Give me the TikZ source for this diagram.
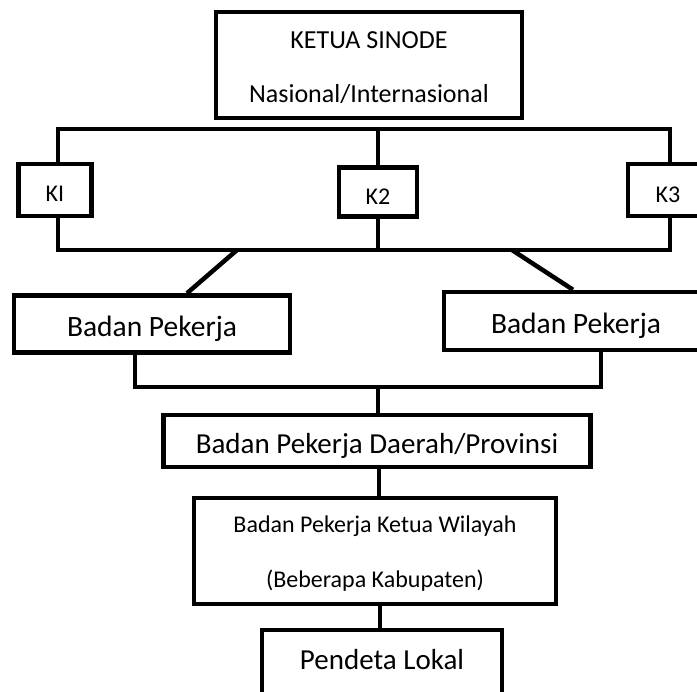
\documentclass[tikz,border=0pt]{standalone}
\usepackage{fontspec}
\setmainfont{Carlito}
\begin{document}
\begin{tikzpicture}[x=1pt,y=-1pt,
  box/.style={draw=black,line width=4.5pt,fill=white,inner sep=0pt,
    align=center,text=black,text depth=0pt,text height=26pt},
  txt/.style={anchor=base,inner sep=0pt,text=black},
  link/.style={draw=black,line width=4.5pt,line cap=rect},
  fs/.style={font=\fontsize{#1}{#1}\selectfont}]
\useasboundingbox (0,0) rectangle (697,692);
\clip (0,0) rectangle (697,692);

% top level
\node[box,minimum width=306pt,minimum height=106pt] (sinode) at (369,65) {};
\node[txt,fs=26] (sinode1) at (369,49) {KETUA SINODE};
\node[txt,fs=26] (sinode2) at (369,103) {Nasional/Internasional};

% bar joining the three councils
\coordinate (tl) at (58,129);
\coordinate (tm) at (378,129);
\coordinate (tr) at (670,129);
\coordinate (bl) at (58,250);
\coordinate (bm) at (378,250);
\coordinate (br) at (670,250);

\node[box,minimum width=73pt,minimum height=52pt,fs=24,text height=24pt] (k1) at (55,190) {KI};
\node[box,minimum width=78pt,minimum height=49pt,fs=24] (k2) at (378,192) {K2};
\node[box,minimum width=80pt,minimum height=52pt,fs=24] (k3) at (668,190) {K3};

\draw[link] (tl) -- (tr);
\draw[link] (bl) -- (br);
\draw[link] (tl) -- (k1.north -| tl);
\draw[link] (k1.south -| bl) -- (bl);
\draw[link] (tm) -- (k2.north);
\draw[link] (k2.south) -- (bm);
\draw[link] (tr) -- (k3.north -| tr);
\draw[link] (k3.south -| br) -- (br);

% working bodies
\node[box,minimum width=276pt,minimum height=57pt,fs=29.5] (bpl) at (152,324) {Badan Pekerja};
\node[box,minimum width=264pt,minimum height=58pt,fs=29.5] (bpr) at (576,321) {Badan Pekerja};

\coordinate (dl) at (237,250);
\coordinate (dr) at (512,250);
\coordinate (dlx) at (187,0);
\coordinate (drx) at (573,0);
\draw[link,line cap=butt] (dl) -- (bpl.north -| dlx);
\draw[link,line cap=butt] (dr) -- (bpr.north -| drx);

\coordinate (jl) at (135,387);
\coordinate (jm) at (378,387);
\coordinate (jr) at (601,387);
\draw[link] (bpl.south -| jl) -- (jl) -- (jr) -- (bpr.south -| jr);

% regional level
\node[box,minimum width=427pt,minimum height=52pt,fs=29] (bpd) at (377,441) {Badan Pekerja Daerah/Provinsi};
\draw[link,line cap=butt] (jm) -- (bpd.north -| jm);

\node[box,minimum width=362pt,minimum height=106pt] (bpw) at (375,551) {};
\node[txt,fs=24] (bpw1) at (375,533) {Badan Pekerja Ketua Wilayah};
\node[txt,fs=24] (bpw2) at (375,588) {(Beberapa Kabupaten)};
\coordinate (c1) at (379,0);
\draw[link,line cap=butt] (bpd.south -| c1) -- (bpw.north -| c1);

\node[box,minimum width=240pt,minimum height=64pt,fs=29,text height=16pt] (lokal) at (382,662) {Pendeta Lokal};
\coordinate (c2) at (380,0);
\draw[link,line cap=butt] (bpw.south -| c2) -- (lokal.north -| c2);
\end{tikzpicture}
\end{document}
